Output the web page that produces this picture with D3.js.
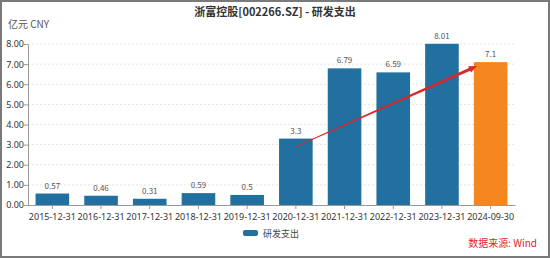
<!DOCTYPE html>
<html>
<head>
<meta charset="utf-8">
<script src="https://cdn.jsdelivr.net/npm/d3@7"></script>
<style>
body { margin: 0; background: #fff; }
svg { display: block; font-family: "Microsoft YaHei", "Noto Sans CJK SC", sans-serif; }
</style>
</head>
<body>
<svg id="chart" width="550" height="258"></svg>
<script>
var categories = ["2015-12-31", "2016-12-31", "2017-12-31", "2018-12-31", "2019-12-31",
    "2020-12-31", "2021-12-31", "2022-12-31", "2023-12-31", "2024-09-30"];
var values = [0.57, 0.46, 0.31, 0.59, 0.5, 3.3, 6.79, 6.59, 8.01, 7.1];
var valueLabels = ["0.57", "0.46", "0.31", "0.59", "0.5", "3.3", "6.79", "6.59", "8.01", "7.1"];
var yTicks = [0, 1, 2, 3, 4, 5, 6, 7, 8];
var seriesName = "研发支出";
var arrowFrom = "2020-12-31", arrowTo = "2024-09-30";

var svg = d3.select("#chart"),
    width = +svg.attr("width"),
    height = +svg.attr("height");

var margin = {left: 28, right: 35, top: 44, bottom: 53};
var blue = "#22709f", orange = "#f5861f";

var x = d3.scaleBand()
    .domain(categories)
    .range([margin.left, width - margin.right])
    .paddingInner(0.31)
    .paddingOuter(0.155);

var y = d3.scaleLinear()
    .domain([0, 8])
    .range([height - margin.bottom, margin.top]);

// border
svg.append("rect")
    .attr("x", 1).attr("y", 1)
    .attr("width", width - 2).attr("height", height - 2)
    .attr("fill", "none").attr("stroke", "#7a7a7a").attr("stroke-width", 2);

// title
svg.append("text")
    .attr("x", width / 2).attr("y", 16)
    .attr("text-anchor", "middle")
    .attr("font-size", 11).attr("font-weight", "bold").attr("fill", "#333")
    .text("浙富控股[002266.SZ] - 研发支出");

svg.append("text")
    .attr("x", 8).attr("y", 28)
    .attr("font-size", 10).attr("fill", "#555")
    .text("亿元  CNY");

// grid
svg.append("g")
    .selectAll("line")
    .data(yTicks.slice(1))
    .enter().append("line")
    .attr("x1", margin.left).attr("x2", width - margin.right)
    .attr("y1", function(d) { return y(d); })
    .attr("y2", function(d) { return y(d); })
    .attr("stroke", "#e4e4e4").attr("stroke-dasharray", "2,2");

// bars
svg.append("g")
    .selectAll("rect")
    .data(values)
    .enter().append("rect")
    .attr("x", function(d, i) { return x(categories[i]); })
    .attr("y", function(d) { return y(d); })
    .attr("width", x.bandwidth())
    .attr("height", function(d) { return y(0) - y(d); })
    .attr("fill", function(d, i) { return i === categories.length - 1 ? orange : blue; });

svg.append("g")
    .selectAll("text")
    .data(values)
    .enter().append("text")
    .attr("x", function(d, i) { return x(categories[i]) + x.bandwidth() / 2; })
    .attr("y", function(d) { return y(d) - 5; })
    .attr("text-anchor", "middle")
    .attr("font-size", 8).attr("fill", "#555")
    .text(function(d, i) { return valueLabels[i]; });

// axes
var yAxis = svg.append("g")
    .attr("transform", "translate(" + margin.left + ",0)")
    .call(d3.axisLeft(y).tickValues(yTicks).tickFormat(d3.format(".2f")).tickSize(4).tickSizeOuter(0));
yAxis.select(".domain").attr("stroke", "#999");
yAxis.selectAll(".tick line").attr("stroke", "#999");
yAxis.selectAll("text").attr("font-size", 9).attr("fill", "#333")
    .attr("font-family", "\"Noto Sans\", sans-serif").attr("x", -4);

var xAxis = svg.append("g")
    .attr("transform", "translate(0," + y(0) + ")")
    .call(d3.axisBottom(x).tickSize(4).tickSizeOuter(0));
xAxis.select(".domain").attr("stroke", "#999");
xAxis.selectAll(".tick line").attr("stroke", "#999");
xAxis.selectAll("text").attr("font-size", 9).attr("fill", "#333")
    .attr("font-family", "\"Noto Sans\", sans-serif").attr("dy", "0.9em");

// trend arrow (tapered)
var x0 = x(arrowFrom) + x.bandwidth() / 2,
    y0 = y(values[categories.indexOf(arrowFrom)]) + 8,
    x1 = x(arrowTo) + 3,
    y1 = y(values[categories.indexOf(arrowTo)]) + 4;
var ang = Math.atan2(y1 - y0, x1 - x0);
var nx = -Math.sin(ang), ny = Math.cos(ang);
var headLen = 8, headW = 3.5, tailW = 0.4, neckW = 1.5;
var bx = x1 - headLen * Math.cos(ang), by = y1 - headLen * Math.sin(ang);
var pts = [
    [x0 + nx * tailW, y0 + ny * tailW],
    [bx + nx * neckW, by + ny * neckW],
    [bx + nx * headW, by + ny * headW],
    [x1, y1],
    [bx - nx * headW, by - ny * headW],
    [bx - nx * neckW, by - ny * neckW],
    [x0 - nx * tailW, y0 - ny * tailW]
];
svg.append("polygon")
    .attr("points", pts.map(function(p) { return p.join(","); }).join(" "))
    .attr("fill", "#d9262a");

// legend
var legend = svg.append("g").attr("transform", "translate(243,230)");
legend.append("rect")
    .attr("width", 15).attr("height", 6).attr("rx", 2)
    .attr("fill", blue);
legend.append("text")
    .attr("x", 20).attr("y", 6.5)
    .attr("font-size", 9).attr("fill", "#444")
    .text(seriesName);

svg.append("text")
    .attr("x", 537).attr("y", 247)
    .attr("text-anchor", "end")
    .attr("font-size", 10).attr("fill", "#e0262a")
    .text("数据来源: Wind");
</script>
</body>
</html>
